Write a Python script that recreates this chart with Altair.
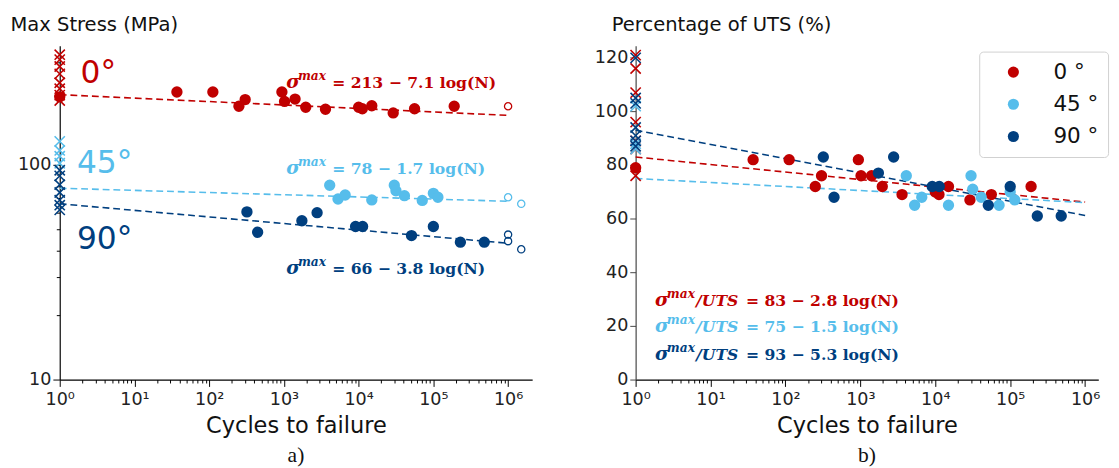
import altair as alt
import pandas as pd

ORIENTS = ["0", "45", "90"]
COLORS = ["#C00000", "#56BDEB", "#003F7F"]

# ---------- fatigue results (filled circles) ----------
n_0 = [37, 112, 250, 303, 940, 1020, 1410, 1960, 3600, 10000, 11200, 15000, 29000, 56000, 190000]
s_0 = [219, 219, 188, 202, 219, 198, 203, 186, 182, 186, 183, 189, 175, 183, 188]
p_0 = [82, 82, 72, 76, 82, 76, 76, 72, 69, 70, 69, 72, 67, 69, 72]

n_45 = [4100, 5300, 6600, 15000, 30000, 31600, 41000, 71000, 100000, 115000]
s_45 = [80.5, 69.5, 72.5, 68.8, 80.5, 75.9, 72, 68.4, 73.8, 70.8]
p_45 = [76, 65, 68, 65, 76, 71, 68, 65, 70, 67]

n_90 = [320, 445, 1740, 2780, 9100, 11300, 51000, 100000, 230000, 480000]
s_90 = [60.5, 48.6, 55, 60, 51.7, 51.7, 46.9, 51.7, 43.7, 43.7]
p_90 = [83, 68, 77, 83, 72, 72, 65, 72, 61, 61]

# filled circle at N = 1 (0 deg)
n1_0 = [1]
s1_0 = [208]
p1_0 = [79]

# ---------- run-outs (open circles, left panel) ----------
ro_n_0 = [1000000]
ro_s_0 = [188]
ro_n_45 = [1000000, 1500000]
ro_s_45 = [70.8, 66]
ro_n_90 = [1000000, 1000000, 1500000]
ro_s_90 = [47.4, 44.2, 40.5]

# ---------- static tests at N = 1 (crosses) ----------
x_s_0 = [327, 310, 288, 266, 242, 227, 212, 200]
x_s_45 = [129, 117, 110, 102]
x_s_90 = [94.6, 89, 81, 74.5, 68.6, 65, 61.8]
x_p_0 = [121, 116, 107, 96, 89, 86, 76]
x_p_45 = [102, 88, 86]
x_p_90 = [120, 105, 103, 94, 91, 89, 87]

# ---------- fitted lines (N = 1 and N = 1e6) ----------
fit_n = [1, 1000000]
fit_s_0 = [213, 170.4]
fit_s_45 = [78, 67.8]
fit_s_90 = [66, 43.2]
fit_p_0 = [83, 66.2]
fit_p_45 = [75, 66.0]
fit_p_90 = [93, 61.2]

# ---------- annotations ----------
ang_text = ["0°", "45°", "90°"]
ang_n = [1.9, 1.7, 1.7]
ang_s = [267, 102, 45]

eq_sym = ["σ", "σ", "σ"]
eq_sup = ["max", "max", "max"]
eq_left_txt = ["= 213 − 7.1 log(N)", "= 78 − 1.7 log(N)", "= 66 − 3.8 log(N)"]
eq_left_n = [1075, 1075, 1075]
eq_left_s = [229, 90.8, 31]
eq_right_mid = ["/UTS", "/UTS", "/UTS"]
eq_right_txt = ["= 83 − 2.8 log(N)", "= 75 − 1.5 log(N)", "= 93 − 5.3 log(N)"]
eq_right_n = [1.82, 1.82, 1.82]
eq_right_p = [27.5, 17.8, 7.4]

x_ticks = [m * 10 ** e for e in range(0, 7) for m in range(1, 10) if m * 10 ** e <= 1000000]
y_ticks_left = [10, 20, 30, 40, 50, 60, 70, 80, 90, 100, 200, 300]
y_ticks_right = [0, 20, 40, 60, 80, 100, 120]


# ---------- build tables ----------
def table(groups):
    rows = []
    for o, c, xs, ys in groups:
        for a, b in zip(xs, ys):
            rows.append({"N": a, "v": b, "Orientation": o, "hex": c})
    return pd.DataFrame(rows)


left_pts = table([("0", COLORS[0], n_0 + n1_0, s_0 + s1_0), ("45", COLORS[1], n_45, s_45), ("90", COLORS[2], n_90, s_90)])
right_pts = table([("0", COLORS[0], n_0 + n1_0, p_0 + p1_0), ("45", COLORS[1], n_45, p_45), ("90", COLORS[2], n_90, p_90)])
left_ro = table([("0", COLORS[0], ro_n_0, ro_s_0), ("45", COLORS[1], ro_n_45, ro_s_45), ("90", COLORS[2], ro_n_90, ro_s_90)])
left_x = table([("0", COLORS[0], [1] * len(x_s_0), x_s_0), ("45", COLORS[1], [1] * len(x_s_45), x_s_45), ("90", COLORS[2], [1] * len(x_s_90), x_s_90)])
right_x = table([("0", COLORS[0], [1] * len(x_p_0), x_p_0), ("45", COLORS[1], [1] * len(x_p_45), x_p_45), ("90", COLORS[2], [1] * len(x_p_90), x_p_90)])
left_fit = table([("0", COLORS[0], fit_n, fit_s_0), ("45", COLORS[1], fit_n, fit_s_45), ("90", COLORS[2], fit_n, fit_s_90)])
right_fit = table([("0", COLORS[0], fit_n, fit_p_0), ("45", COLORS[1], fit_n, fit_p_45), ("90", COLORS[2], fit_n, fit_p_90)])
left_ang = pd.DataFrame({"N": ang_n, "v": ang_s, "t": ang_text, "hex": COLORS})
left_eq = pd.DataFrame({"N": eq_left_n, "v": eq_left_s, "sym": eq_sym, "sup": eq_sup,
                        "eqtxt": eq_left_txt, "hex": COLORS})
right_eq = pd.DataFrame({"N": eq_right_n, "v": eq_right_p, "sym": eq_sym, "sup": eq_sup,
                         "mid": eq_right_mid, "eqtxt": eq_right_txt, "hex": COLORS})

MAJOR = "abs(log(datum.value)/LN10 - round(log(datum.value)/LN10)) < 0.001"
XLABEL = MAJOR + " ? '10' + ['⁰','¹','²','³','⁴','⁵','⁶','⁷'][round(log(datum.value)/LN10)] : ''"
CROSS = "M-1,-1L1,1M-1,1L1,-1"
FONT = "DejaVu Sans"
SERIF = "DejaVu Serif"


def x_enc(dmax):
    return alt.X(
        "N:Q",
        scale=alt.Scale(type="log", domain=[1, dmax], nice=False),
        axis=alt.Axis(
            values=x_ticks, labelExpr=XLABEL, title="Cycles to failure",
            tickSize={"condition": {"test": MAJOR, "value": 7}, "value": 3.5},
            labelFontSize=18, titleFontSize=23, titleFontWeight="normal",
            labelFont=FONT, titleFont=FONT, titlePadding=6, labelPadding=5, grid=False,
            domainColor="black", tickColor="black", labelColor="#222", titleColor="#111",
            labelFlush=False,
        ),
    )


hexc = alt.Color("hex:N", scale=None)


def eq_parts(df, xe, ye, mid, rest_dx):
    base = alt.Chart(df).encode(x=xe, y=ye, color=hexc)
    common = dict(align="left", baseline="alphabetic", font=SERIF, fontWeight="bold")
    parts = [
        base.mark_text(fontSize=19, fontStyle="italic", **common).encode(text=alt.Text("sym:N")),
        base.mark_text(fontSize=12.5, fontStyle="italic", dx=12, dy=-8, **common).encode(text=alt.Text("sup:N")),
    ]
    if mid:
        parts.append(base.mark_text(fontSize=16, fontStyle="italic", dx=42, **common).encode(text=alt.Text("mid:N")))
    parts.append(base.mark_text(fontSize=16, dx=rest_dx, **common).encode(text=alt.Text("eqtxt:N")))
    return parts


# ---------------- left panel ----------------
yl = alt.Y(
    "v:Q",
    scale=alt.Scale(type="log", domain=[10, 360], nice=False),
    axis=alt.Axis(
        values=y_ticks_left, labelExpr="datum.value == 10 || datum.value == 100 ? datum.label : ''",
        tickSize={"condition": {"test": MAJOR, "value": 7}, "value": 3.5},
        title="Max Stress (MPa)", titleAngle=0, titleAlign="left", titleBaseline="alphabetic",
        titleX=-51, titleY=-16, titleFontSize=20, titleFontWeight="normal", titleFont=FONT,
        labelFontSize=18, labelFont=FONT, grid=False, domainColor="black", tickColor="black",
        labelColor="#222", titleColor="#111",
    ),
)
xl = x_enc(2100000)

l_fit = alt.Chart(left_fit).mark_line(strokeDash=[7, 4], strokeWidth=1.6).encode(x=xl, y=yl, color=hexc, detail="Orientation:N")
l_pts = alt.Chart(left_pts).mark_circle(size=135, opacity=1).encode(x=xl, y=yl, color=hexc)
l_ro = alt.Chart(left_ro).mark_point(shape="circle", size=55, filled=False, strokeWidth=1.3, opacity=1).encode(x=xl, y=yl, color=hexc)
l_x = alt.Chart(left_x).mark_point(shape=CROSS, size=110, strokeWidth=1.6, filled=False, opacity=1).encode(x=xl, y=yl, color=hexc)
l_ang = alt.Chart(left_ang).mark_text(align="left", baseline="middle", fontSize=32, font=FONT).encode(x=xl, y=yl, text="t:N", color=hexc)

left = alt.layer(l_fit, l_pts, l_ro, l_x, l_ang, *eq_parts(left_eq, xl, yl, False, 47)).properties(
    width=484, height=342,
    title=alt.TitleParams("a)", orient="bottom", font="Liberation Serif", fontSize=22, fontWeight="normal", color="#111", offset=8),
)

# ---------------- right panel ----------------
yr = alt.Y(
    "v:Q",
    scale=alt.Scale(domain=[0, 124.5], nice=False),
    axis=alt.Axis(
        values=y_ticks_right, tickSize=6,
        title="Percentage of UTS (%)", titleAngle=0, titleAlign="left", titleBaseline="alphabetic",
        titleX=-25, titleY=-16, titleFontSize=20, titleFontWeight="normal", titleFont=FONT,
        labelFontSize=18, labelFont=FONT, grid=False, domainColor="#444", tickColor="#444",
        labelColor="#222", titleColor="#111",
    ),
)
xr = x_enc(1500000)

r_fit = alt.Chart(right_fit).mark_line(strokeDash=[7, 4], strokeWidth=1.6).encode(x=xr, y=yr, color=hexc, detail="Orientation:N")
r_x = alt.Chart(right_x).mark_point(shape=CROSS, size=110, strokeWidth=1.6, filled=False, opacity=1).encode(x=xr, y=yr, color=hexc)
r_pts = alt.Chart(right_pts).mark_circle(size=135, opacity=1).encode(
    x=xr, y=yr,
    color=alt.Color(
        "Orientation:N",
        scale=alt.Scale(domain=ORIENTS, range=COLORS),
        legend=alt.Legend(
            title=None, orient="none", legendX=942, legendY=6, labelExpr="datum.label + ' °'",
            labelFontSize=22, labelFont=FONT, labelColor="#111", symbolSize=130, symbolType="circle",
            symbolStrokeWidth=0, padding=10, rowPadding=11, symbolOffset=14, labelOffset=30,
            strokeColor="#d0d0d0", fillColor="white", cornerRadius=4,
        ),
    ),
)

right = alt.layer(r_fit, r_x, r_pts, *eq_parts(right_eq, xr, yr, True, 93)).properties(
    width=474, height=342,
    title=alt.TitleParams("b)", orient="bottom", font="Liberation Serif", fontSize=22, fontWeight="normal", color="#111", offset=8),
)

chart = alt.hconcat(left, right, spacing=63).properties(
    padding={"left": 2, "top": 1, "right": 2, "bottom": 0}
).configure_view(stroke=None).configure_axis(domainWidth=1.2)

chart.save("out.html", embed_options={"renderer": "svg", "actions": False})
